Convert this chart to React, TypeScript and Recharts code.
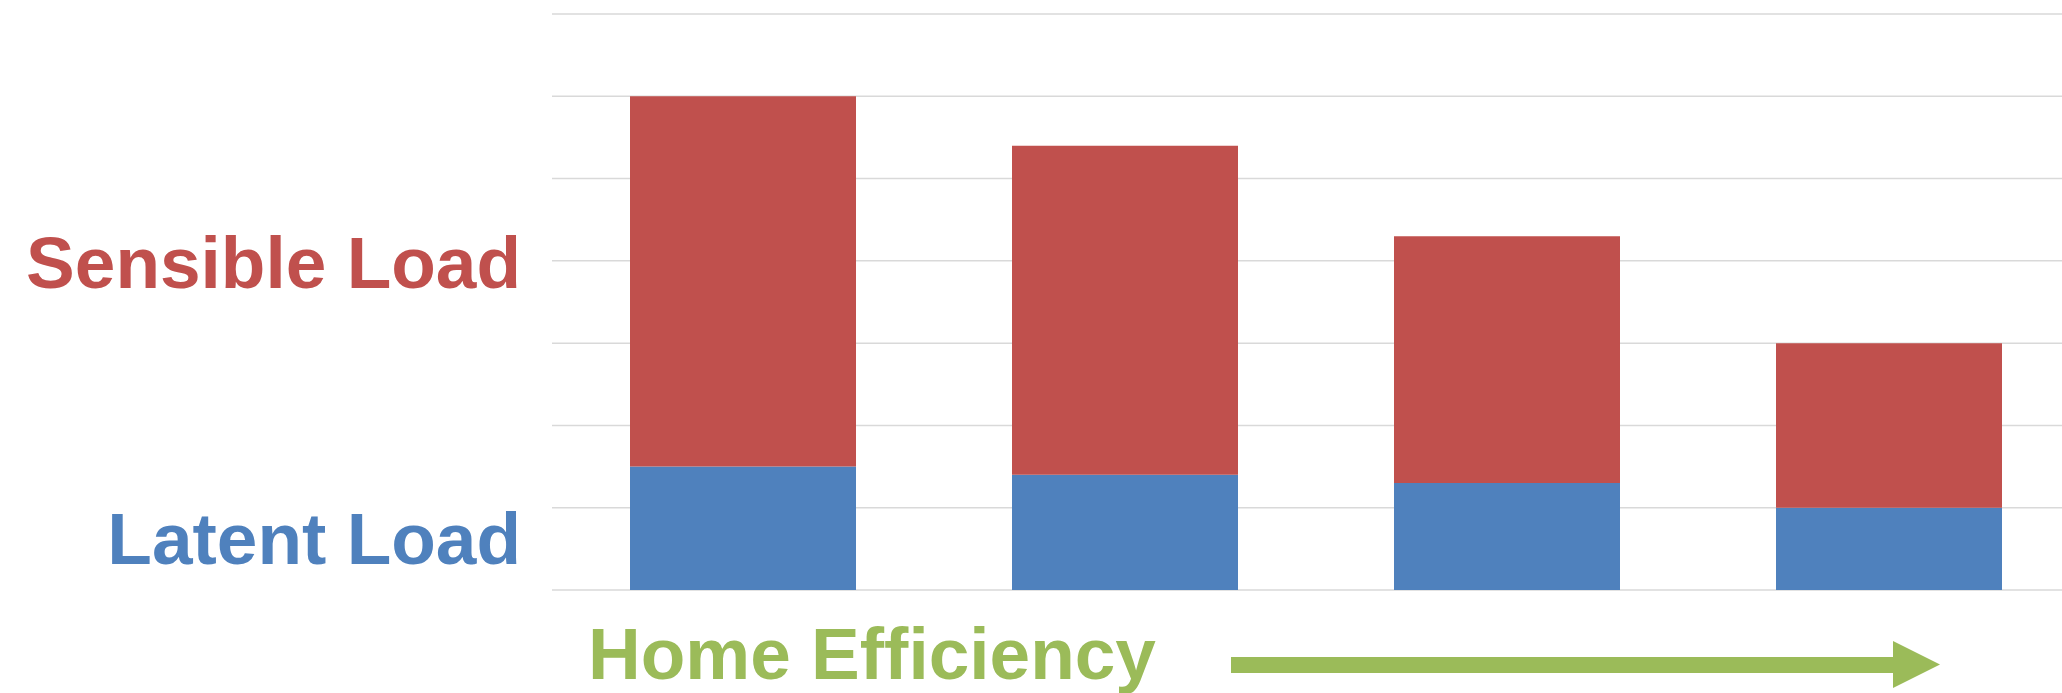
import { BarChart, Bar, XAxis, YAxis, CartesianGrid } from 'recharts';

// four homes, from least to most efficient
const homes = ['Home 1', 'Home 2', 'Home 3', 'Home 4'];
const latentLoad = [1.5, 1.4, 1.3, 1.0];
const sensibleLoad = [4.5, 4.0, 3.0, 2.0];
const yTicks = [0, 1, 2, 3, 4, 5, 6, 7];

const RED = '#C0504D';
const BLUE = '#4F81BD';
const GREEN = '#9BBB59';
const FONT = '"Liberation Sans", Arial, sans-serif';

const chartData = homes.map((name, i) => ({
  name,
  latent: latentLoad[i],
  sensible: sensibleLoad[i],
}));

export default function App() {
  return (
    <div
      style={{
        position: 'absolute',
        left: 0,
        top: 0,
        width: 2062,
        height: 693,
        overflow: 'hidden',
        background: '#fff',
      }}
    >
      <BarChart
        width={2080}
        height={693}
        data={chartData}
        margin={{ top: 14, right: 0, left: 552, bottom: 103 }}
        barCategoryGap="20.8%"
      >
        <CartesianGrid vertical={false} stroke="#d9d9d9" strokeWidth={1.5} />
        <XAxis dataKey="name" hide />
        <YAxis hide domain={[0, 7]} ticks={yTicks} />
        <Bar dataKey="latent" stackId="load" fill={BLUE} barSize={226} isAnimationActive={false} />
        <Bar dataKey="sensible" stackId="load" fill={RED} barSize={226} isAnimationActive={false} />
      </BarChart>

      {/* labels and the efficiency arrow */}
      <svg
        width={2062}
        height={693}
        style={{ position: 'absolute', left: 0, top: 0, pointerEvents: 'none' }}
      >
        <text x={521} y={288} textAnchor="end" fontFamily={FONT} fontWeight="bold" fontSize={73} fill={RED}>
          Sensible Load
        </text>
        <text x={521} y={564} textAnchor="end" fontFamily={FONT} fontWeight="bold" fontSize={73} fill={BLUE}>
          Latent Load
        </text>
        <text x={588} y={679} fontFamily={FONT} fontWeight="bold" fontSize={73} fill={GREEN}>
          Home Efficiency
        </text>
        <polygon
          points="1231,657 1893,657 1893,641 1940,664.5 1893,688 1893,673 1231,673"
          fill={GREEN}
        />
      </svg>
    </div>
  );
}
